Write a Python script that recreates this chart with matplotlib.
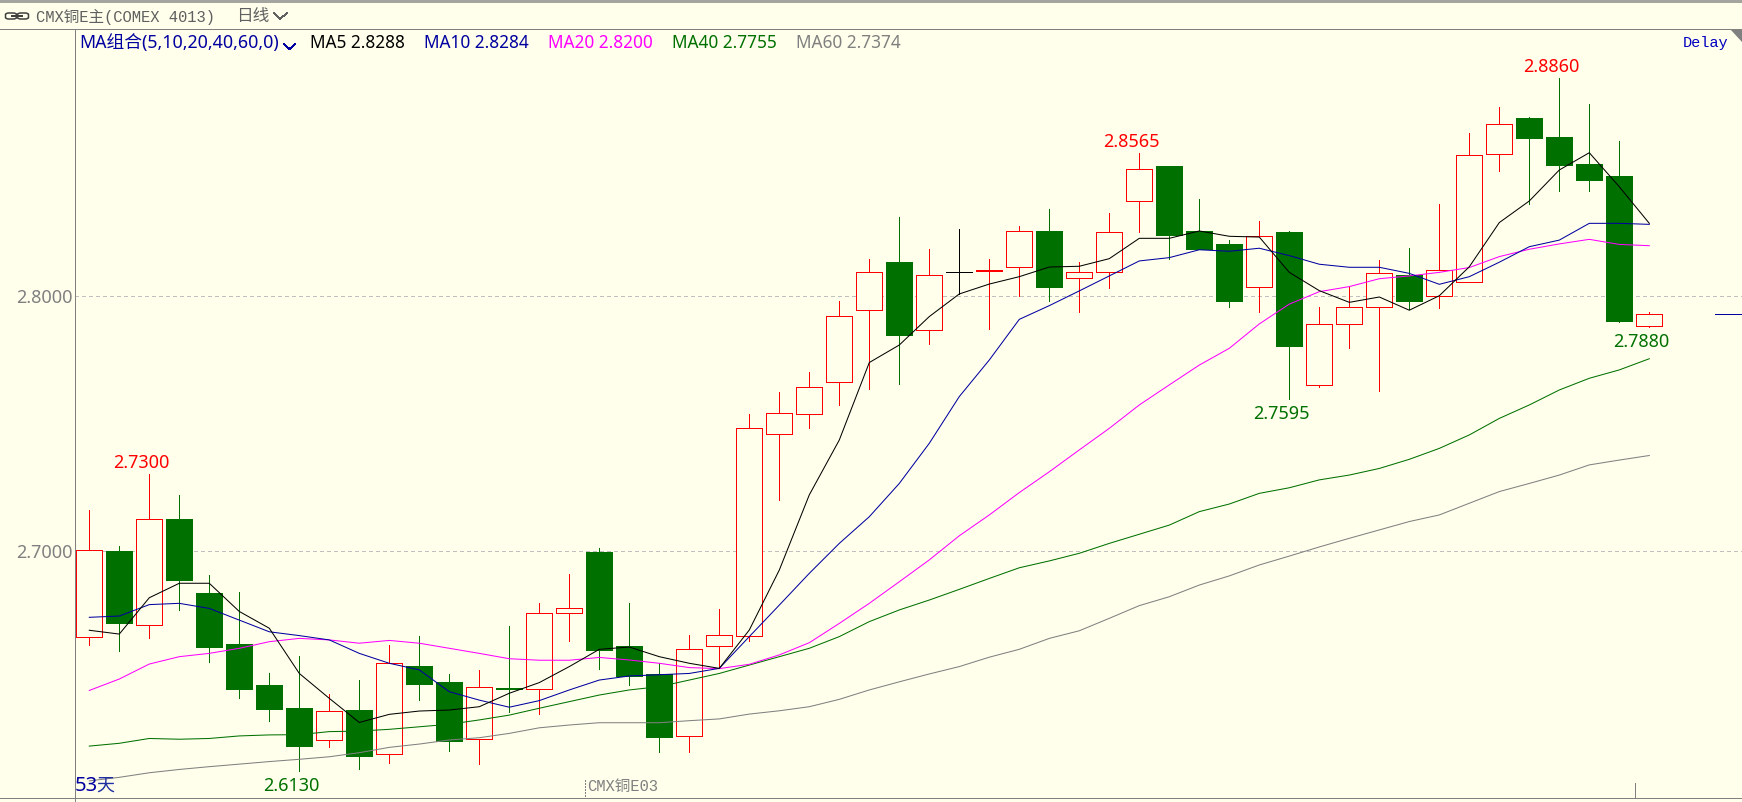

import matplotlib
matplotlib.use('Agg')
import matplotlib.pyplot as plt
from matplotlib.lines import Line2D
from matplotlib.patches import Polygon, FancyBboxPatch
import numpy as np

# ---- data (price) ----
high = [2.7159,2.7018,2.7300,2.7219,2.6904,2.6837,2.6518,2.6585,2.6435,2.6490,2.6628,2.6663,2.6514,2.6530,2.6703,2.6793,2.6907,2.7010,2.6793,2.6556,2.6667,2.6770,2.7537,2.7624,2.7703,2.7982,2.8148,
        2.8313,2.8187,2.8266,2.8148,2.8278,2.8344,2.8136,2.8329,2.8565,2.8514,2.8384,2.8222,2.8297,2.8258,2.7959,2.8039,2.8144,2.8191,2.8364,2.8644,2.8746,2.8707,2.8860,2.8758,2.8612,2.7939]
top = [2.7001,2.6998,2.7123,2.7124,2.6833,2.6632,2.6470,2.6380,2.6367,2.6372,2.6556,2.6545,2.6482,2.6461,2.6457,2.6753,2.6772,2.6994,2.6624,2.6514,2.6611,2.6666,2.7481,2.7540,2.7642,2.7922,2.8095,
       2.8136,2.8083,2.8095,2.8106,2.8257,2.8258,2.8095,2.8253,2.8501,2.8514,2.8258,2.8207,2.8237,2.8254,2.7890,2.7957,2.8091,2.8083,2.8103,2.8556,2.8678,2.8703,2.8628,2.8522,2.8474,2.7930]
bottom = [2.6658,2.6716,2.6705,2.6885,2.6621,2.6456,2.6377,2.6232,2.6253,2.6192,2.6198,2.6476,2.6251,2.6258,2.6453,2.6453,2.6753,2.6610,2.6507,2.6267,2.6268,2.6623,2.6662,2.7457,2.7536,2.7662,2.7946,
          2.7850,2.7867,2.8095,2.8102,2.8115,2.8039,2.8072,2.8095,2.8375,2.8243,2.8188,2.7984,2.8036,2.7806,2.7650,2.7890,2.7957,2.7984,2.8001,2.8056,2.8560,2.8625,2.8519,2.8460,2.7905,2.7883]
low = [2.6629,2.6606,2.6657,2.6766,2.6562,2.6421,2.6330,2.6130,2.6228,2.6141,2.6165,2.6411,2.6212,2.6158,2.6365,2.6358,2.6645,2.6535,2.6470,2.6208,2.6208,2.6536,2.6645,2.7200,2.7484,2.7573,2.7637,
       2.7657,2.7814,2.8010,2.7873,2.8003,2.7984,2.7940,2.8035,2.8255,2.8146,2.8188,2.7960,2.7940,2.7595,2.7645,2.7799,2.7629,2.7952,2.7956,2.8056,2.8495,2.8365,2.8417,2.8417,2.7900,2.7880]
# +1 close above open, -1 close below open, 0 unchanged
direction = [1,-1,1,-1,-1,-1,-1,-1,1,-1,1,-1,-1,1,-1,1,1,-1,-1,-1,1,1,1,1,1,1,1,
             -1,1,0,1,1,-1,1,1,1,-1,-1,-1,1,-1,1,1,1,-1,1,1,1,-1,-1,-1,-1,1]
ma5 = [2.6686,2.6671,2.6814,2.6871,2.6871,2.6760,2.6694,2.6516,2.6418,2.6323,2.6355,2.6368,2.6372,2.6385,2.6438,2.6480,2.6543,2.6611,2.6620,2.6582,2.6556,2.6536,2.6687,2.6923,2.7219,2.7435,2.7740,
       2.7809,2.7921,2.8010,2.8049,2.8078,2.8116,2.8119,2.8149,2.8229,2.8229,2.8258,2.8237,2.8234,2.8095,2.8023,2.7977,2.7998,2.7946,2.8003,2.8117,2.8291,2.8376,2.8498,2.8566,2.8432,2.8288]
ma10 = [2.6737,2.6742,2.6787,2.6792,2.6772,2.6726,2.6680,2.6665,2.6648,2.6595,2.6556,2.6530,2.6444,2.6411,2.6383,2.6409,2.6451,2.6490,2.6506,2.6511,2.6516,2.6536,2.6661,2.6785,2.6910,2.7028,2.7133,
        2.7264,2.7422,2.7606,2.7750,2.7910,2.7964,2.8022,2.8081,2.8140,2.8153,2.8184,2.8178,2.8190,2.8161,2.8127,2.8115,2.8115,2.8091,2.8048,2.8078,2.8135,2.8196,2.8222,2.8288,2.8288,2.8284]
ma20 = [2.6449,2.6494,2.6553,2.6582,2.6595,2.6615,2.6641,2.6654,2.6648,2.6635,2.6646,2.6635,2.6615,2.6595,2.6574,2.6568,2.6568,2.6579,2.6569,2.6556,2.6539,2.6535,2.6552,2.6589,2.6637,2.6713,2.6792,
        2.6877,2.6963,2.7058,2.7140,2.7228,2.7310,2.7396,2.7481,2.7573,2.7652,2.7730,2.7796,2.7892,2.7970,2.8019,2.8039,2.8070,2.8081,2.8095,2.8114,2.8157,2.8186,2.8207,2.8225,2.8205,2.8200]
ma40 = [2.6230,2.6241,2.6260,2.6257,2.6260,2.6270,2.6274,2.6275,2.6287,2.6289,2.6296,2.6306,2.6316,2.6333,2.6352,2.6379,2.6405,2.6431,2.6451,2.6464,2.6490,2.6516,2.6549,2.6582,2.6615,2.6661,2.6720,
        2.6766,2.6805,2.6847,2.6890,2.6932,2.6959,2.6989,2.7028,2.7064,2.7100,2.7153,2.7183,2.7225,2.7247,2.7278,2.7297,2.7323,2.7359,2.7402,2.7455,2.7520,2.7573,2.7632,2.7678,2.7711,2.7755]
ma60 = [2.6093,2.6107,2.6125,2.6138,2.6149,2.6159,2.6169,2.6178,2.6188,2.6204,2.6225,2.6238,2.6254,2.6263,2.6280,2.6302,2.6313,2.6322,2.6322,2.6322,2.6330,2.6337,2.6356,2.6369,2.6385,2.6414,2.6451,
        2.6483,2.6514,2.6543,2.6580,2.6611,2.6654,2.6684,2.6733,2.6783,2.6818,2.6864,2.6900,2.6943,2.6978,2.7014,2.7048,2.7081,2.7114,2.7140,2.7186,2.7232,2.7264,2.7297,2.7337,2.7356,2.7374]
high_marks = [(2,'2.7300'),(35,'2.8565'),(49,'2.8860')]
low_marks = [(7,'2.6130'),(40,'2.7595'),(52,'2.7880')]
y_ticks = [2.7, 2.8]
ma_labels = ['MA5 2.8288','MA10 2.8284','MA20 2.8200','MA40 2.7755','MA60 2.7374']

# ---- style ----
W, H = 1742, 802
BG = '#FFFFEC'; RED = '#FF0000'; GREEN = '#007000'; BLUE = '#0000A0'
MAG = '#FF00FF'; GRAY = '#808080'
LW = 0.72
CURVE_LW = 0.74
UI = ['Noto Sans', 'Noto Sans CJK SC', 'DejaVu Sans']
MONO = ['Liberation Mono', 'Noto Sans CJK SC']

fig = plt.figure(figsize=(W/100, H/100), dpi=100, facecolor=BG)
left, right, ytop, ybot = 74.5, 1742, 29, 797.5
ax = fig.add_axes([left/W, 1-ybot/H, (right-left)/W, (ybot-ytop)/H], facecolor=BG)
ax.set_xlim(-0.493, 55.09)
ax.set_ylim(2.60276, 2.90531)
for s in ax.spines.values():
    s.set_visible(False)
ax.set_xticks([])
ax.set_yticks(y_ticks)
ax.set_yticklabels(['%.4f' % v for v in y_ticks], color=GRAY, fontsize=13, family=UI, fontweight='medium')
ax.tick_params(axis='y', length=0, pad=1.5)
for v in y_ticks:
    ax.axhline(v, color='#C0C0C0', lw=LW, ls=(0, (3, 3)), zorder=1, antialiased=False)

x = np.arange(len(high))
high, low, top, bottom = map(np.array, (high, low, top, bottom))
direction = np.array(direction)
up = direction > 0; dn = direction < 0; eq = direction == 0
for mask, col in ((up, RED), (dn, GREEN), (eq, 'black')):
    ax.vlines(x[mask], top[mask], high[mask], color=col, lw=LW, zorder=2, antialiased=False)
    ax.vlines(x[mask], low[mask], bottom[mask], color=col, lw=LW, zorder=2, antialiased=False)
ax.bar(x[up], (top-bottom)[up], bottom=bottom[up], width=26/30, facecolor=BG, edgecolor=RED,
       linewidth=LW, zorder=2, antialiased=False)
ax.bar(x[dn], (top-bottom)[dn], bottom=bottom[dn], width=26/30, facecolor=GREEN, edgecolor=GREEN,
       linewidth=LW, zorder=2, antialiased=False)
ax.hlines(top[eq], x[eq]-13/30, x[eq]+13/30, color='black', lw=LW, zorder=2, antialiased=False)

for vals, col in ((ma60, GRAY), (ma40, GREEN), (ma20, MAG), (ma10, BLUE), (ma5, 'black')):
    ax.plot(x, vals, color=col, lw=CURVE_LW, zorder=3, antialiased=True, solid_joinstyle='miter')

ax.hlines(top[-1], 54.2, 55.09, color=BLUE, lw=LW, zorder=3, antialiased=False)

for i, lab in high_marks:
    ax.annotate(lab, xy=(i, high[i]), xytext=(-8*.72, 11*.72), textcoords='offset points',
                ha='center', va='center', color=RED, fontsize=13, family=UI, annotation_clip=False)
for i, lab in low_marks:
    ax.annotate(lab, xy=(i, low[i]), xytext=(-8*.72, -15*.72), textcoords='offset points',
                ha='center', va='center', color=GREEN, fontsize=13, family=UI, annotation_clip=False)

def T(px, py, s, **k):
    k.setdefault('va', 'center')
    fig.text(px/W, 1-py/H, s, **k)
def L(xs, ys, col, lw=LW):
    fig.add_artist(Line2D([v/W for v in xs], [1-v/H for v in ys], color=col, lw=lw, antialiased=False))

# frame
fig.add_artist(Polygon([(0, 1), (1, 1), (1, 1-2.5/H), (0, 1-2.5/H)], closed=True, transform=fig.transFigure,
                       facecolor='#A5A5A0', edgecolor='none'))
L([0, W], [29, 29], GRAY)
L([0, W], [797.5, 797.5], GRAY)
L([74.5, 74.5], [29, H], GRAY)
L([1634.5, 1634.5], [783, 797], GRAY)
fig.add_artist(Line2D([584.5/W]*2, [1-780/H, 1-797/H], color=GRAY, lw=LW, ls=(0, (2, 2)), antialiased=False))
fig.add_artist(Polygon([(1730/W, 1-29/H), (1742/W, 1-29/H), (1742/W, 1-42/H)], closed=True,
                       transform=fig.transFigure, facecolor=GRAY, edgecolor='none'))

# header
for bx in (5.5, 17.5):
    fig.add_artist(FancyBboxPatch((bx/W, 1-19/H), 11/W, 6/H, boxstyle='round,pad=0,rounding_size=0.002',
                                  transform=fig.transFigure, facecolor='none', edgecolor='#404040', lw=1.1))
L([12, 22], [16, 16], '#404040', 1.1)
T(36, 17, 'CMX铜E主(COMEX 4013)', family=MONO, fontsize=11.2, color='#606060')
T(236, 17, '日线', family=['Noto Sans CJK SC'], fontsize=12, color='#606060')
L([274, 280, 287], [13, 19, 13], '#606060', 0.6)
T(79, 43, 'MA组合(5,10,20,40,60,0)', family=UI, fontsize=12.8, color=BLUE)
L([284, 289.5, 295], [44, 49, 44], BLUE, 0.6)
for px, s, c in zip((310, 424, 548, 672, 796), ma_labels, ('black', BLUE, MAG, GREEN, GRAY)):
    T(px, 43, s, family=UI, fontsize=12.4, color=c)
T(1683, 43, 'Delay', family=MONO, fontsize=11, color='#0000C0')
T(75, 786, '53', family=UI, fontsize=14.5, color=BLUE)
T(96, 786, '天', family=['Noto Sans CJK SC'], fontsize=13, color='#2030A0')
T(587, 787, 'CMX铜E03', family=MONO, fontsize=11.2, color=GRAY)

fig.savefig('out.png', dpi=100, facecolor=BG)
